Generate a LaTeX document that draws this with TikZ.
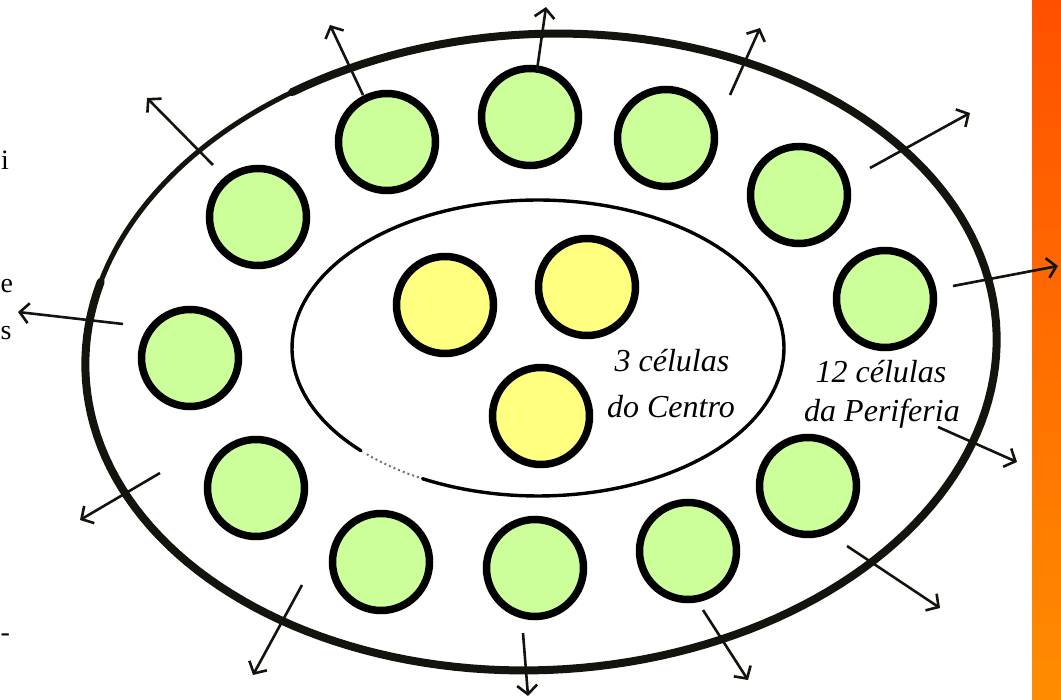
\documentclass[tikz,border=0pt]{standalone}
\usepackage{fontspec}
\newfontfamily\labelfont{Liberation Serif}
\usetikzlibrary{arrows.meta}
\definecolor{cellgreen}{RGB}{204,255,153}
\definecolor{cellyellow}{RGB}{255,255,128}
\definecolor{barTop}{RGB}{255,80,0}
\definecolor{barBot}{RGB}{255,140,0}
\definecolor{ink}{RGB}{20,20,15}
\tikzset{
  gcell/.style={circle,draw=black,fill=cellgreen,line width=7.5pt,minimum size=97pt,inner sep=0pt},
  ycell/.style={circle,draw=black,fill=cellyellow,line width=7.5pt,minimum size=97pt,inner sep=0pt},
  outarrow/.style={draw=ink,line width=2.6pt,-{Straight Barb[length=9pt,width=20pt]}},
  rim/.style={draw=ink,line width=8pt,line cap=round},
  rimsketch/.style={draw=ink,line width=5pt,line cap=round},
  innerrim/.style={draw=black,line width=3.4pt,line cap=round},
  lbl/.style={font=\labelfont\itshape\fontsize{32}{38}\selectfont,anchor=base,inner sep=0pt},
  frag/.style={font=\labelfont\fontsize{28}{34}\selectfont,anchor=base west,inner sep=0pt}
}
\begin{document}
\begin{tikzpicture}[x=1pt,y=-1pt]
\useasboundingbox (0,0) rectangle (1061,700);
\clip (0,0) rectangle (1061,700);
\fill[white] (0,0) rectangle (1061,700);
% orange bar
\shade[top color=barTop,bottom color=barBot] (1032,0) rectangle (1061,700);
% left text fragments
\node[frag] (fi) at (1,170) {i};
\node[frag] (fe) at (0.5,293) {e};
\node[frag] (fs) at (0.5,340) {s};
\node[frag] (fd) at (0.5,641) {-};
% outer rim (slightly tilted ellipse)
\draw[rim] plot[domain=239:557,samples=160,variable=\t]
  ({541+456*cos(\t)*cos(-3)-318*sin(\t)*sin(-3)},{352+456*cos(\t)*sin(-3)+318*sin(\t)*cos(-3)});
\draw[rimsketch] plot[domain=196:250,samples=40,variable=\t]
  ({541+456*cos(\t)*cos(-3)-318*sin(\t)*sin(-3)},{352+456*cos(\t)*sin(-3)+318*sin(\t)*cos(-3)});
% inner rim
\draw[innerrim] plot[domain=136:478,samples=160,variable=\t]
  ({538+246*cos(\t)},{348+148*sin(\t)});
\draw[draw=black!55,line width=2pt,dash pattern=on 2pt off 3pt] plot[domain=119:135,samples=12,variable=\t]
  ({538+246*cos(\t)},{348+148*sin(\t)});
% central cells
\node[ycell] (y1) at (445,305) {};
\node[ycell] (y2) at (587,287) {};
\node[ycell] (y3) at (541,416) {};
% peripheral cells
\node[gcell] (g1) at (387,142) {};
\node[gcell] (g2) at (530,117) {};
\node[gcell] (g3) at (666,138) {};
\node[gcell] (g4) at (799,195) {};
\node[gcell] (g5) at (885,299) {};
\node[gcell] (g6) at (808,486) {};
\node[gcell] (g7) at (688,551) {};
\node[gcell] (g8) at (535,568) {};
\node[gcell] (g9) at (381,562) {};
\node[gcell] (g10) at (256,488) {};
\node[gcell] (g11) at (190,358) {};
\node[gcell] (g12) at (258,217) {};
% labels
\node[lbl] (c1) at (672,372) {3 células};
\node[lbl] (c2) at (671,418) {do Centro};
\node[lbl] (p1) at (881,383) {12 células};
\node[lbl] (p2) at (882,422) {da Periferia};
% arrows
\coordinate (a1s) at (213,165); \coordinate (a1e) at (147,98);
\coordinate (a2s) at (363,95);  \coordinate (a2e) at (330,25);
\coordinate (a3s) at (537,70);  \coordinate (a3e) at (546,7);
\coordinate (a4s) at (730,95);  \coordinate (a4e) at (760,28);
\coordinate (a5s) at (870,168); \coordinate (a5e) at (970,113);
\coordinate (a6s) at (953,286); \coordinate (a6e) at (1058,266);
\coordinate (a7s) at (938,427); \coordinate (a7e) at (1017,462);
\coordinate (a8s) at (847,546); \coordinate (a8e) at (940,608);
\coordinate (a9s) at (703,610); \coordinate (a9e) at (748,680);
\coordinate (a10s) at (523,633); \coordinate (a10e) at (528,696);
\coordinate (a11s) at (302,585); \coordinate (a11e) at (253,675);
\coordinate (a12s) at (160,473); \coordinate (a12e) at (80,520);
\coordinate (a13s) at (123,324); \coordinate (a13e) at (18,312);
\foreach \i in {1,...,13}{\draw[outarrow] (a\i s) -- (a\i e);}
\end{tikzpicture}
\end{document}
